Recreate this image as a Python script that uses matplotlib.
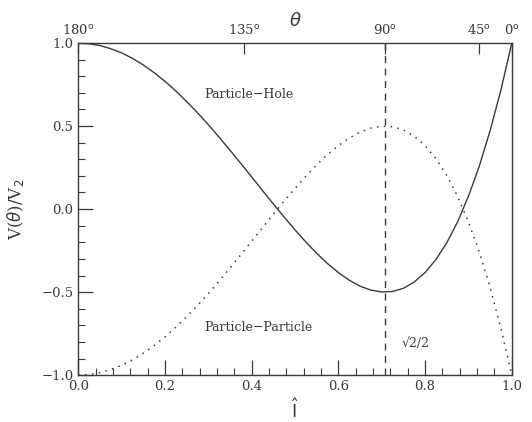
import numpy as np
import matplotlib
matplotlib.use("Agg")
import matplotlib.pyplot as plt
from matplotlib.ticker import MultipleLocator

# values
i_hat = [0.0, 0.025, 0.05, 0.075, 0.1, 0.125, 0.15, 0.175, 0.2, 0.225,
         0.25, 0.275, 0.3, 0.325, 0.35, 0.375, 0.4, 0.425, 0.45, 0.475,
         0.5, 0.525, 0.55, 0.575, 0.6, 0.625, 0.65, 0.675, 0.7, 0.725,
         0.75, 0.775, 0.8, 0.825, 0.85, 0.875, 0.9, 0.925, 0.95, 0.975, 1.0]
particle_hole = [1.0, 0.996, 0.985, 0.966, 0.941, 0.908, 0.868, 0.822, 0.77, 0.712,
                 0.648, 0.581, 0.509, 0.433, 0.355, 0.275, 0.194, 0.112, 0.031, -0.048,
                 -0.125, -0.198, -0.266, -0.328, -0.382, -0.428, -0.464, -0.488, -0.499, -0.496,
                 -0.477, -0.439, -0.382, -0.304, -0.203, -0.077, 0.077, 0.258, 0.472, 0.718, 1.0]
particle_particle = [-1.0, -0.996, -0.985, -0.966, -0.941, -0.908, -0.868, -0.822, -0.77, -0.712,
                     -0.648, -0.581, -0.509, -0.433, -0.355, -0.275, -0.194, -0.112, -0.031, 0.048,
                     0.125, 0.198, 0.266, 0.328, 0.382, 0.428, 0.464, 0.488, 0.499, 0.496,
                     0.477, 0.439, 0.382, 0.304, 0.203, 0.077, -0.077, -0.258, -0.472, -0.718, -1.0]

theta_deg = [180, 135, 90, 45, 0]
theta_pos = [0.0, 0.383, 0.707, 0.924, 1.0]
sqrt_half = 0.707

plt.rcParams['font.family'] = ['DejaVu Serif']
ink = '#3a3a3a'


def fmt(v):
    return ('%.1f' % v).replace('-', '\u2212')


fig = plt.figure(figsize=(5.32, 4.22), dpi=100)
ax = fig.add_axes([0.147, 0.111, 0.815, 0.787])

ax.plot(i_hat, particle_hole, color=ink, lw=1.0)
ax.plot(i_hat, particle_particle, color=ink, lw=1.1, linestyle=(0, (1, 3.5)))
ax.axvline(sqrt_half, color=ink, lw=1.0, linestyle=(0, (5, 4)))

ax.set_xlim(0, 1)
ax.set_ylim(-1, 1)
ax.xaxis.set_major_locator(MultipleLocator(0.2))
ax.xaxis.set_minor_locator(MultipleLocator(0.04))
ax.yaxis.set_major_locator(MultipleLocator(0.5))
ax.yaxis.set_minor_locator(MultipleLocator(0.1))
ax.tick_params(which='both', direction='in', top=False, right=False, color=ink,
               labelsize=9.5, labelcolor=ink)
ax.tick_params(which='major', length=11, width=0.9)
ax.tick_params(which='minor', length=5, width=0.8)
ax.set_xticklabels([fmt(v) for v in ax.get_xticks()])
ax.set_yticklabels([fmt(v) for v in ax.get_yticks()])
for s in ax.spines.values():
    s.set_color(ink)
    s.set_linewidth(1.0)

top = ax.secondary_xaxis('top')
top.set_xticks(theta_pos)
top.set_xticklabels([r'%d$^{\rm o}$' % t for t in theta_deg])
top.tick_params(direction='in', length=8, width=0.9, color=ink, labelsize=9.5,
                labelcolor=ink, pad=4)
top.spines['top'].set_visible(False)
top.set_xlabel(r'$\theta$', fontsize=13, color=ink, labelpad=-2)

ax.set_xlabel(r'$\widehat{\rm I}$', fontsize=13, color=ink, labelpad=4)
ax.set_ylabel(r'V($\theta$)/V$_2$', fontsize=12, color=ink, labelpad=11)

ax.text(0.29, 0.69, 'Particle\u2212Hole', fontsize=9, color=ink, va='center')
ax.text(0.29, -0.71, 'Particle\u2212Particle', fontsize=9, color=ink, va='center')
ax.text(0.745, -0.81, '\u221a2/2', fontsize=9, color=ink, va='center')

fig.savefig('out.png', dpi=100, facecolor='white')
